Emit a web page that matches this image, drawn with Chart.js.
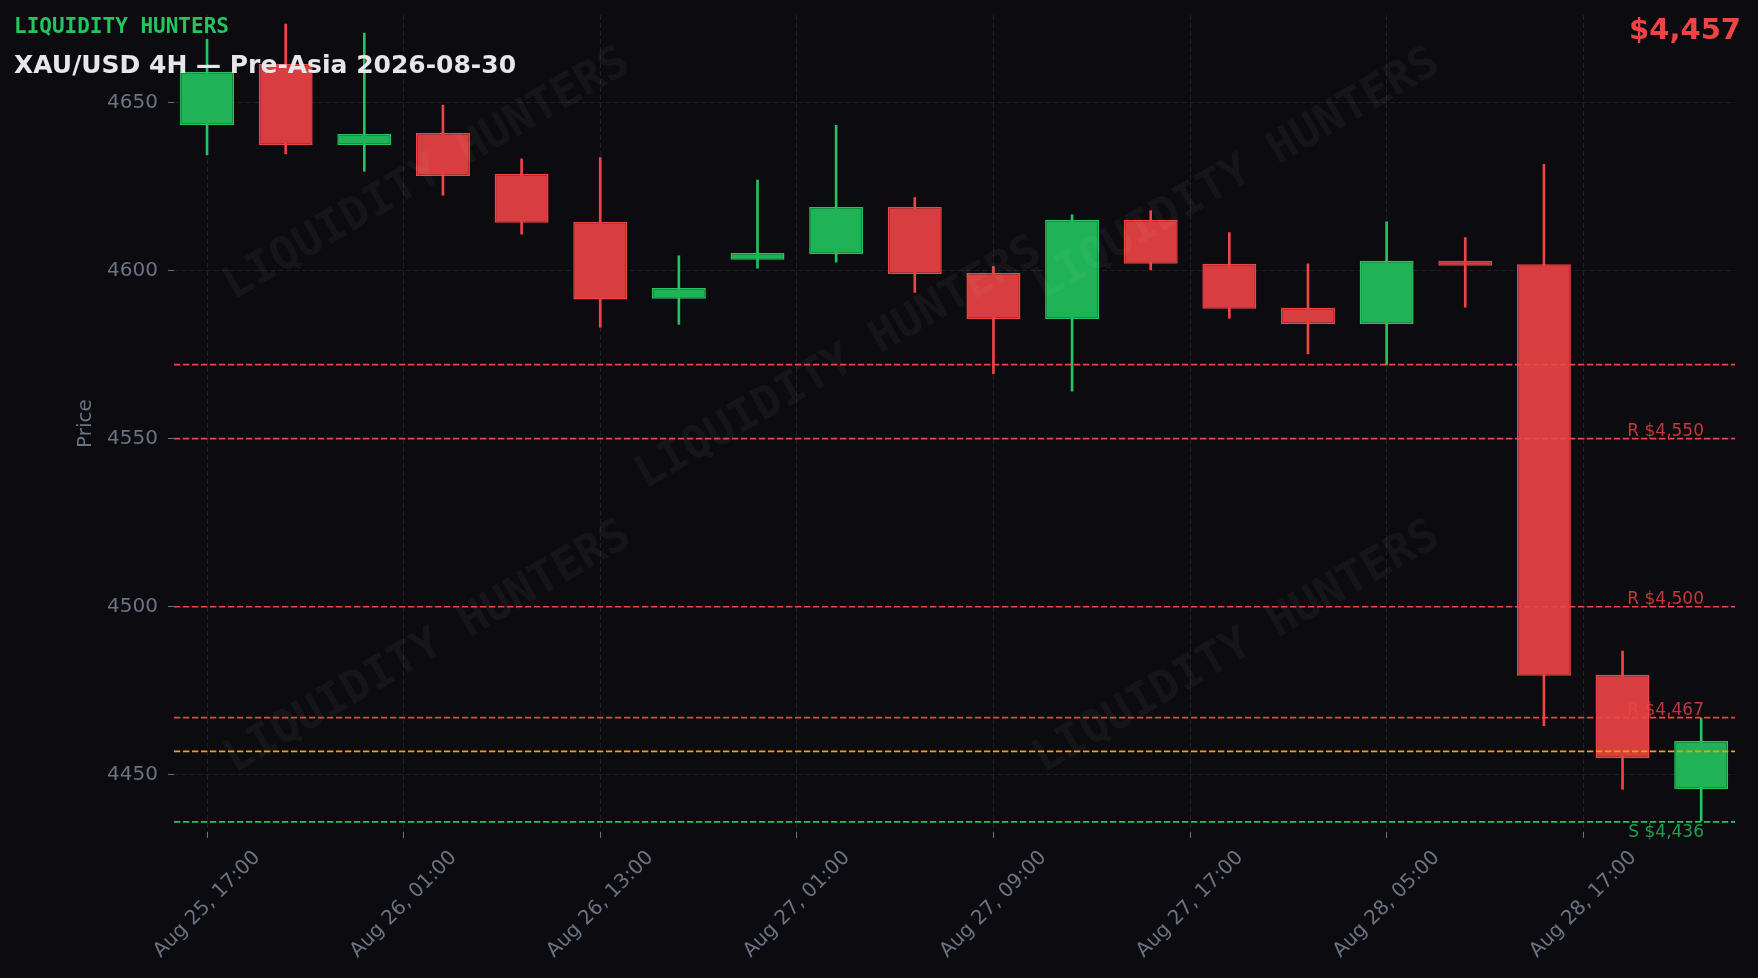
<!DOCTYPE html>
<html>
<head>
<meta charset="utf-8">
<title>XAU/USD 4H</title>
<script src="https://cdn.jsdelivr.net/npm/chart.js@4.4.1/dist/chart.umd.min.js"></script>
<style>
  html, body { margin: 0; padding: 0; background: #0b0b10; }
  #wrap { width: 1758px; height: 978px; }
</style>
</head>
<body>
<div id="wrap"><canvas id="chart" width="1758" height="978"></canvas></div>
<script>
// 4H candles, Aug 25 17:00 -> Aug 28 21:00
const candleTimes = [
  'Aug 25 17:00', 'Aug 25 21:00', 'Aug 26 01:00', 'Aug 26 05:00', 'Aug 26 09:00',
  'Aug 26 13:00', 'Aug 26 17:00', 'Aug 26 21:00', 'Aug 27 01:00', 'Aug 27 05:00',
  'Aug 27 09:00', 'Aug 27 13:00', 'Aug 27 17:00', 'Aug 27 21:00', 'Aug 28 01:00',
  'Aug 28 05:00', 'Aug 28 09:00', 'Aug 28 13:00', 'Aug 28 17:00', 'Aug 28 21:00'
];
const opens  = [4643.3, 4661.4, 4637.3, 4640.9, 4628.7, 4614.5, 4591.6, 4603.2, 4604.9, 4618.9,
                4599.3, 4585.6, 4615.1, 4602.0, 4588.9, 4584.1, 4602.9, 4601.9, 4479.8, 4445.8];
const highs  = [4668.8, 4673.3, 4670.6, 4649.2, 4633.2, 4633.6, 4604.4, 4626.9, 4643.2, 4621.7,
                4601.2, 4616.6, 4617.8, 4611.3, 4602.0, 4614.5, 4609.8, 4631.6, 4486.8, 4466.8];
const lows   = [4634.4, 4634.7, 4629.5, 4622.4, 4610.8, 4583.1, 4584.0, 4600.7, 4602.5, 4593.5,
                4569.3, 4564.1, 4600.2, 4585.8, 4575.2, 4571.9, 4589.1, 4464.6, 4445.7, 4436.3];
const closes = [4659.1, 4637.3, 4640.6, 4628.1, 4614.2, 4591.4, 4594.8, 4605.2, 4618.9, 4599.0,
                4585.6, 4615.1, 4602.0, 4588.6, 4584.1, 4602.9, 4601.4, 4479.5, 4454.9, 4460.1];

const tickPositions = [0, 2.5, 5, 7.5, 10, 12.5, 15, 17.5];
const tickLabels = [
  'Aug 25, 17:00', 'Aug 26, 01:00', 'Aug 26, 13:00', 'Aug 27, 01:00',
  'Aug 27, 09:00', 'Aug 27, 17:00', 'Aug 28, 05:00', 'Aug 28, 17:00'
];
const priceTicks = [4450, 4500, 4550, 4600, 4650];

const levelValues = [4572, 4550, 4500, 4467, 4457, 4436];
const levelLabels = ['', 'R $4,550', 'R $4,500', 'R $4,467', '', 'S $4,436'];
const levelKinds  = ['res', 'res', 'res', 'res', 'last', 'sup'];

const brand = 'LIQUIDITY HUNTERS';
const titleText = 'XAU/USD 4H \u2014 Pre-Asia 2026-08-30';
const lastPrice = '$4,457';

const UP = '#22c55e';
const DOWN = '#ef4444';
const UP_FILL = 'rgb(32,178,86)';
const DOWN_FILL = 'rgb(216,62,63)';
const AXIS_TEXT = '#6b7280';
const GRID = '#1e1f28';

const LEVEL_STYLE = {
  res:  { line: '#ef4444', text: 'rgba(239,68,68,0.8)', below: false },
  last: { line: '#f59e0b', text: '#f59e0b', below: false },
  sup:  { line: '#22c55e', text: 'rgba(34,197,94,0.8)', below: true }
};

const isUp = opens.map((o, i) => closes[i] >= o);

const overlay = {
  id: 'overlay',
  afterDatasetsDraw(chart) {
    const { ctx, chartArea: area, scales: { y } } = chart;
    ctx.save();

    // watermark
    ctx.fillStyle = 'rgba(255,255,255,0.045)';
    ctx.font = 'bold 45px "DejaVu Sans Mono"';
    ctx.textAlign = 'center';
    ctx.textBaseline = 'middle';
    [[427, 175], [1237, 175], [839, 364], [428, 648], [1237, 648]].forEach(([wx, wy]) => {
      ctx.save();
      ctx.translate(wx, wy);
      ctx.rotate(-Math.PI / 6);
      ctx.fillText(brand, 0, 0);
      ctx.restore();
    });

    // support / resistance levels
    ctx.lineWidth = 1.7;
    ctx.font = '17px "DejaVu Sans"';
    ctx.textAlign = 'right';
    ctx.textBaseline = 'alphabetic';
    levelValues.forEach((v, i) => {
      const st = LEVEL_STYLE[levelKinds[i]];
      const py = y.getPixelForValue(v);
      ctx.setLineDash([6.3, 2.7]);
      ctx.strokeStyle = st.line;
      ctx.beginPath();
      ctx.moveTo(area.left, py);
      ctx.lineTo(area.right, py);
      ctx.stroke();
      if (levelLabels[i]) {
        ctx.fillStyle = st.text;
        ctx.fillText(levelLabels[i], area.right - 31, st.below ? py + 15 : py - 3);
      }
    });
    ctx.restore();
  },
  afterDraw(chart) {
    const { ctx } = chart;
    ctx.save();
    ctx.textBaseline = 'alphabetic';
    ctx.textAlign = 'left';
    ctx.fillStyle = UP;
    ctx.font = 'bold 21px "DejaVu Sans Mono"';
    ctx.fillText(brand, 14, 33);
    ctx.fillStyle = '#e5e7eb';
    ctx.font = 'bold 25px "DejaVu Sans"';
    ctx.fillText(titleText, 14, 73);
    ctx.textAlign = 'right';
    ctx.fillStyle = DOWN;
    ctx.font = 'bold 29px "DejaVu Sans"';
    ctx.fillText(lastPrice, 1741, 39);
    ctx.restore();
  }
};

Chart.defaults.font.family = '"DejaVu Sans", sans-serif';

new Chart(document.getElementById('chart'), {
  type: 'bar',
  data: {
    datasets: [
      {
        label: 'body',
        data: opens.map((o, i) => ({ x: i, y: [o, closes[i]] })),
        backgroundColor: isUp.map(u => u ? UP_FILL : DOWN_FILL),
        borderColor: isUp.map(u => u ? UP : DOWN),
        borderWidth: 1.5,
        borderSkipped: false,
        grouped: false,
        barPercentage: 0.686,
        categoryPercentage: 1,
        order: 1
      },
      {
        label: 'wick',
        data: lows.map((l, i) => ({ x: i, y: [l, highs[i]] })),
        backgroundColor: isUp.map(u => u ? UP : DOWN),
        borderWidth: 0,
        barThickness: 2,
        grouped: false,
        order: 2
      }
    ]
  },
  options: {
    responsive: false,
    devicePixelRatio: 1,
    animation: false,
    events: [],
    layout: { padding: { top: 15, right: 23, left: 0, bottom: 0 } },
    plugins: { legend: { display: false }, tooltip: { enabled: false } },
    scales: {
      x: {
        type: 'linear',
        min: -0.42,
        max: 19.43,
        offset: false,
        afterBuildTicks: s => { s.ticks = tickPositions.map(v => ({ value: v })); },
        afterFit: s => { s.height = 146; s.paddingLeft = 0; s.paddingRight = 0; },
        grid: { offset: false, color: GRID, lineWidth: 1, borderDash: [5, 3], tickColor: AXIS_TEXT, tickLength: 6, tickBorderDash: [] },
        border: { display: false, dash: [5, 3] },
        ticks: {
          autoSkip: false,
          maxRotation: 45,
          minRotation: 45,
          labelOffset: 50,
          padding: 8,
          color: AXIS_TEXT,
          font: { size: 20 },
          callback: (v, i) => tickLabels[i]
        }
      },
      y: {
        min: 4433,
        max: 4676,
        afterBuildTicks: s => { s.ticks = priceTicks.map(v => ({ value: v })); },
        afterFit: s => { s.width = 174; s.paddingTop = 0; s.paddingBottom = 0; },
        grid: { color: GRID, lineWidth: 1, borderDash: [5, 3], tickColor: AXIS_TEXT, tickLength: 6, tickBorderDash: [] },
        border: { display: false, dash: [5, 3] },
        ticks: { color: AXIS_TEXT, font: { size: 20 }, padding: 10, callback: v => String(v) },
        title: {
          display: true,
          text: 'Price',
          color: AXIS_TEXT,
          font: { size: 20 },
          padding: { top: 74, bottom: 0 }
        }
      }
    }
  },
  plugins: [overlay]
});
</script>
</body>
</html>
